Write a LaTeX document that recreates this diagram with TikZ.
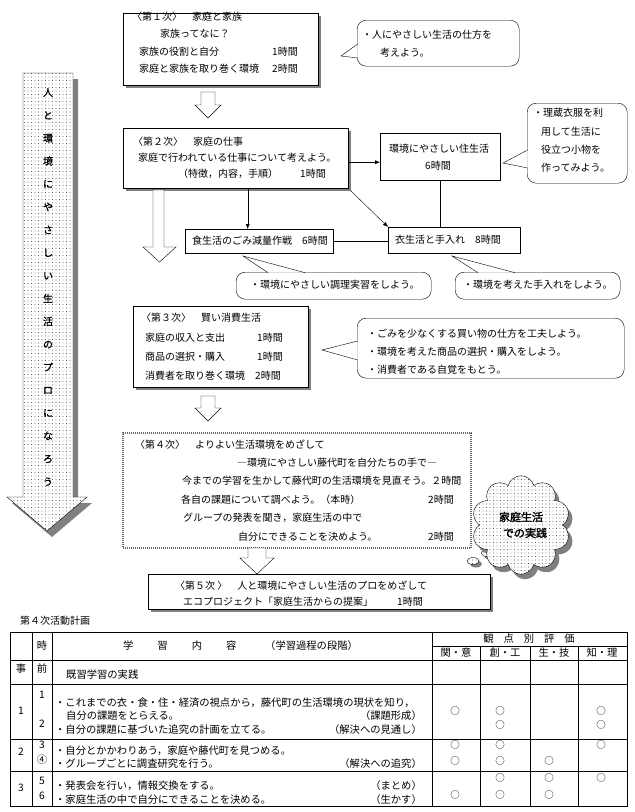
\documentclass[tikz,border=0pt]{standalone}
\usepackage{fontspec}
\setmainfont{Noto Sans CJK JP}
\newfontfamily\heavyjp{Noto Sans CJK JP}[FakeBold=2]
\newfontfamily\semijp{Noto Sans CJK JP}[FakeBold=1]
\usepackage{tikz}
\usetikzlibrary{arrows.meta, positioning, shapes.symbols, shapes.geometric, shadows, patterns.meta, calc}

\begin{document}
\begin{tikzpicture}[x=1pt, y=-1pt,
  font=\fontsize{10}{12}\selectfont,
  panel/.style={draw, fill=white, anchor=north west, inner sep=0pt,
    drop shadow={shadow xshift=3pt, shadow yshift=-3pt, fill=black!50, opacity=1}},
  plainbox/.style={draw, fill=white, anchor=north west, inner sep=0pt},
  bubble/.style={draw, fill=white, rounded corners=9pt, anchor=north west, inner sep=0pt},
  txt/.style={anchor=west, inner sep=0pt},
  rtxt/.style={anchor=east, inner sep=0pt},
  ctxt/.style={inner sep=0pt},
  okmark/.style={inner sep=0pt, font=\fontsize{9.5}{10}\selectfont},
  arr/.style={-{Latex[length=5pt, width=4pt]}},
  flow/.style={draw, fill=white, line join=miter},
  dotfill/.style={fill=white, postaction={pattern={Dots[distance=3.5pt, radius=0.45pt]}}},
  tabline/.style={line width=0.6pt}
]
\useasboundingbox (0,0) rectangle (635,812);

% big arrow on the left
\begin{scope}[shift={(5,6)}]
  \fill[black!50] (23,73) -- (73,73) -- (73,497) -- (87,497) -- (47,531) -- (7,497) -- (23,497) -- cycle;
\end{scope}
\draw[dotfill] (23,73) -- (73,73) -- (73,497) -- (87,497) -- (47,531) -- (7,497) -- (23,497) -- cycle;
\node[align=center, font=\semijp\fontsize{10}{22.9}\selectfont] (motto) at (48,287)
  {人\\と\\環\\境\\に\\や\\さ\\し\\い\\生\\活\\の\\プ\\ロ\\に\\な\\ろ\\う};

% step 1
\node[panel, minimum width=195, minimum height=72] (s1) at (123,13) {};
\node[txt] (s1a) at (132,17) {〈第１次〉　家庭と家族};
\node[txt] (s1b) at (160,34) {家族ってなに？};
\node[txt] (s1c) at (139,52) {家族の役割と自分};
\node[txt] (s1d) at (272,52) {1時間};
\node[txt] (s1e) at (139,69) {家庭と家族を取り巻く環境};
\node[txt] (s1f) at (272,69) {2時間};

\node[bubble, minimum width=162, minimum height=46] (b1) at (357,20) {};
\draw[fill=white] (357.7,44) -- (341,56) -- (357.7,58);
\node[txt] (b1a) at (362,35) {・人にやさしい生活の仕方を};
\node[txt] (b1b) at (380,53) {考えよう。};

\draw[flow] (201,92) -- (215,92) -- (215,105) -- (221,105) -- (208,118) -- (195,105) -- (201,105) -- cycle;

% step 2
\node[panel, minimum width=225, minimum height=60] (s2) at (123,128) {};
\node[txt] (s2a) at (133,142) {〈第２次〉　家庭の仕事};
\node[txt] (s2b) at (138,158) {家庭で行われている仕事について考えよう。};
\node[txt] (s2c) at (178,174) {（特徴，内容，手順）};
\node[txt] (s2d) at (300,174) {1時間};

\node[plainbox, minimum width=120, minimum height=47] (home) at (380,133) {};
\node[txt] (homea) at (389,149) {環境にやさしい住生活};
\node[txt] (homeb) at (425,166) {6時間};

\node[bubble, minimum width=100, minimum height=80] (b2) at (527,103) {};
\draw[fill=white] (527.7,150) -- (503,163) -- (527.7,168);
\node[txt] (b2a) at (533,113) {・理蔵衣服を利};
\node[txt] (b2b) at (541,132) {用して生活に};
\node[txt] (b2c) at (541,150) {役立つ小物を};
\node[txt] (b2d) at (541,168) {作ってみよう。};

\node[plainbox, minimum width=148, minimum height=24] (food) at (185,229) {};
\node[txt] (fooda) at (192,241) {食生活のごみ減量作戦　6時間};
\node[plainbox, minimum width=132, minimum height=26] (wear) at (388,227) {};
\node[txt] (weara) at (395,240) {衣生活と手入れ　8時間};

\coordinate (j1) at ($(s2.east)+(0,4)$);
\draw[arr] (j1) -- (j1 -| home.west);
\coordinate (j2) at ($(s2.south)+(12,0)$);
\draw[arr] (j2) -- (j2 |- food.north);
\draw[arr] ([shift={(2,2)}]s2.south east) -- (wear.north west);
\draw (home.south) -- (home.south |- wear.north);
\draw (food.east) -- (food.east -| wear.west);

\draw[flow] (153,190) -- (164,190) -- (164,247) -- (176,247) -- (159.5,262) -- (143,247) -- (153,247) -- cycle;

\node[bubble, minimum width=195, minimum height=27] (b3) at (236,272) {};
\draw[fill=white] (268,272.7) -- (243,256) -- (305,272.7);
\node[txt] (b3a) at (250,285) {・環境にやさしい調理実習をしよう。};
\node[bubble, minimum width=165, minimum height=27] (b4) at (455,272) {};
\draw[fill=white] (478,272.7) -- (452,256) -- (515,272.7);
\node[txt] (b4a) at (463,285) {・環境を考えた手入れをしよう。};

% step 3
\node[panel, minimum width=175, minimum height=81] (s3) at (133,306) {};
\node[txt] (s3a) at (141,318) {〈第３次〉　賢い消費生活};
\node[txt] (s3b) at (145,338) {家庭の収入と支出};
\node[txt] (s3c) at (257,338) {1時間};
\node[txt] (s3d) at (145,357) {商品の選択・購入};
\node[txt] (s3e) at (257,357) {1時間};
\node[txt] (s3f) at (145,376) {消費者を取り巻く環境};
\node[txt] (s3g) at (255,376) {2時間};

\node[bubble, minimum width=267, minimum height=60] (b5) at (357,318) {};
\draw[fill=white] (357.7,341) -- (322,350) -- (357.7,360);
\node[txt] (b5a) at (367,334) {・ごみを少なくする買い物の仕方を工夫しよう。};
\node[txt] (b5b) at (367,352) {・環境を考えた商品の選択・購入をしよう。};
\node[txt] (b5c) at (367,370) {・消費者である自覚をもとう。};

\draw[flow] (201,396) -- (215,396) -- (215,408) -- (221,408) -- (208,421) -- (195,408) -- (201,408) -- cycle;

% step 4
\node[draw=black!60, line width=2pt, dash pattern=on 1pt off 1pt, fill=white, anchor=north west,
  minimum width=348, minimum height=115] (s4) at (122,432) {};
\node[txt] (s4a) at (135,445) {〈第４次〉　よりよい生活環境をめざして};
\node[txt] (s4b) at (237,463) {―環境にやさしい藤代町を自分たちの手で―};
\node[txt] (s4c) at (182,481) {今までの学習を生かして藤代町の生活環境を見直そう。２時間};
\node[txt] (s4d) at (181,500) {各自の課題について調べよう。（本時）};
\node[txt] (s4e) at (428,500) {2時間};
\node[txt] (s4f) at (183,518) {グループの発表を聞き，家庭生活の中で};
\node[txt] (s4g) at (238,537) {自分にできることを決めよう。};
\node[txt] (s4h) at (428,537) {2時間};

% cloud
\node[ellipse, draw, dotfill, minimum width=12, minimum height=7, inner sep=0pt,
  drop shadow={shadow xshift=3pt, shadow yshift=-3pt, fill=black!50, opacity=1}] (puff1) at (473,561) {};
\node[ellipse, draw, dotfill, minimum width=15, minimum height=8, inner sep=0pt,
  drop shadow={shadow xshift=3pt, shadow yshift=-3pt, fill=black!50, opacity=1}] (puff2) at (489,553) {};
\node[cloud, cloud puffs=10, draw, dotfill, minimum width=92, minimum height=68, align=center,
  font=\heavyjp\fontsize{11}{16}\selectfont,
  drop shadow={shadow xshift=4pt, shadow yshift=-5pt, fill=black!50, opacity=1}] (home4) at (521,525)
  {家庭生活\\\hspace*{8pt}での実践};

\draw[flow] (248,548) -- (266,548) -- (266,558) -- (274,558) -- (257,574) -- (240,558) -- (248,558) -- cycle;

% step 5
\node[panel, minimum width=342, minimum height=35] (s5) at (148,574) {};
\node[txt] (s5a) at (175,586) {〈第５次 〉　人と環境にやさしい生活のプロをめざして};
\node[txt] (s5b) at (183,602) {エコプロジェクト「家庭生活からの提案」};
\node[txt] (s5c) at (397,602) {1時間};

% plan table
\node[txt] (cap) at (20,621) {第４次活動計画};
\draw[tabline] (10,632) rectangle (627,806);
\foreach \tx in {32,52,432}
  \draw[tabline] (\tx,632) -- (\tx,806);
\foreach \tx in {480,530,578}
  \draw[tabline] (\tx,646) -- (\tx,806);
\foreach \ty in {660,684,739,771}
  \draw[tabline] (10,\ty) -- (627,\ty);
\draw[tabline] (432,646) -- (627,646);

\begin{scope}[font=\fontsize{10.3}{12}\selectfont]
\node[ctxt] (h1) at (42,646) {時};
\node[txt] (h2) at (123,646) {学\hspace{24pt}習\hspace{24pt}内\hspace{24pt}容};
\node[txt] (h3) at (265,646) {（学習過程の段階）};
\node[ctxt] (h4) at (529,639) {観\hspace{10pt}点\hspace{10pt}別\hspace{10pt}評\hspace{10pt}価};
\node[ctxt] (h5) at (456,653) {関・意};
\node[ctxt] (h6) at (505,653) {創・工};
\node[ctxt] (h7) at (554,653) {生・技};
\node[ctxt] (h8) at (602,653) {知・理};

\node[ctxt] (r0a) at (21,669) {事};
\node[ctxt] (r0b) at (42,669) {前};
\node[txt] (r0c) at (66,675) {既習学習の実践};

\node[ctxt] (r1a) at (21,711) {1};
\node[ctxt] (r1b) at (42,695) {1};
\node[ctxt] (r1c) at (42,724) {2};
\node[txt] (r1d) at (55,703) {・これまでの衣・食・住・経済の視点から，藤代町の生活環境の現状を知り，};
\node[txt] (r1e) at (66,716) {自分の課題をとらえる。};
\node[rtxt] (r1f) at (422,716) {（課題形成）};
\node[txt] (r1g) at (55,730) {・自分の課題に基づいた追究の計画を立てる。};
\node[rtxt] (r1h) at (422,730) {（解決への見通し）};

\node[ctxt] (r2a) at (21,752) {2};
\node[ctxt] (r2b) at (42,745) {3};
\node[ctxt] (r2c) at (42,760) {④};
\node[txt] (r2d) at (55,751) {・自分とかかわりあう，家庭や藤代町を見つめる。};
\node[txt] (r2e) at (55,764) {・グループごとに調査研究を行う。};
\node[rtxt] (r2f) at (422,764) {（解決への追究）};

\node[ctxt] (r3a) at (21,788) {3};
\node[ctxt] (r3b) at (42,781) {5};
\node[ctxt] (r3c) at (42,796) {6};
\node[txt] (r3d) at (55,786) {・発表会を行い，情報交換をする。};
\node[rtxt] (r3e) at (422,786) {（まとめ）};
\node[txt] (r3f) at (55,800) {・家庭生活の中で自分にできることを決める。};
\node[rtxt] (r3g) at (422,800) {（生かす）};
\end{scope}

\foreach \mx/\my [count=\k] in {455/711, 500/711, 500/725, 601/711, 601/725,
    455/745, 455/761, 500/745, 500/761, 549/761, 601/745,
    455/795, 500/778, 500/795, 549/778, 549/795, 601/778}
  \node[okmark] (ok\k) at (\mx,\my) {○};
\end{tikzpicture}
\end{document}
